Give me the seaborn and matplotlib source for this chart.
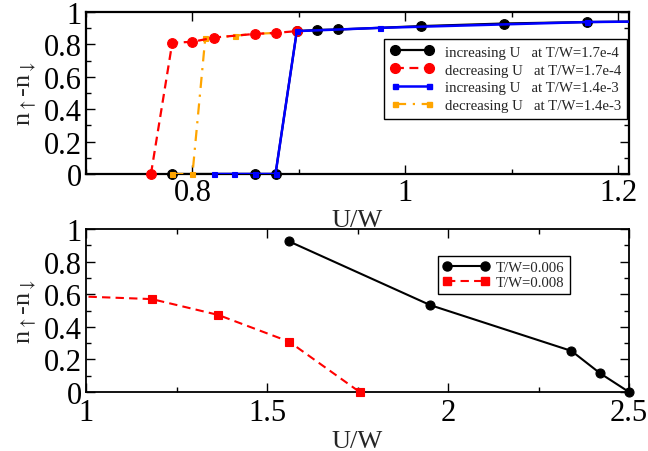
import matplotlib
matplotlib.use("Agg")
import matplotlib.pyplot as plt
import seaborn as sns
from matplotlib.lines import Line2D
from matplotlib.ticker import MultipleLocator, FuncFormatter

# ── data ────────────────────────────────────────────────────────────
# top panel: hysteresis of n_up - n_down vs U/W
inc_lo_x = [0.781, 0.859, 0.878, 0.898, 0.917, 0.937, 1.015, 1.093, 1.171, 1.25]
inc_lo_y = [0.0, 0.0, 0.0, 0.882, 0.889, 0.892, 0.913, 0.929, 0.938, 0.943]
dec_lo_x = [0.761, 0.781, 0.800, 0.820, 0.859, 0.878, 0.898]
dec_lo_y = [0.0, 0.810, 0.816, 0.842, 0.865, 0.871, 0.882]
inc_hi_x = [0.820, 0.839, 0.859, 0.878, 0.898, 0.976, 1.171, 1.25]
inc_hi_y = [0.0, 0.0, 0.0, 0.0, 0.882, 0.902, 0.938, 0.943]
dec_hi_x = [0.781, 0.800, 0.812, 0.820, 0.840, 0.859, 0.878]
dec_hi_y = [0.0, 0.0, 0.838, 0.841, 0.854, 0.865, 0.871]

top_labels = ["increasing U   at T/W=1.7e-4",
              "decreasing U   at T/W=1.7e-4",
              "increasing U   at T/W=1.4e-3",
              "decreasing U   at T/W=1.4e-3"]

# bottom panel
t006_x = [1.561, 1.951, 2.341, 2.42, 2.5]
t006_y = [0.924, 0.533, 0.252, 0.115, 0.0]
t008_x = [0.82, 1.182, 1.365, 1.561, 1.756]
t008_y = [0.60, 0.57, 0.473, 0.309, 0.0]
bottom_labels = ["T/W=0.006", "T/W=0.008"]

top_xlim = (0.7, 1.21)
bot_xlim = (1.0, 2.5)

sns.set_theme(style="ticks")
plt.rcParams["font.family"] = ["Liberation Serif", "DejaVu Serif"]
plt.rcParams["mathtext.fontset"] = "stix"

DASH = (0, (4, 2.5))
DASHDOT = (0, (5, 3, 1, 3))


def draw(ax, x, y, color, ls, marker, ms, lw, xlim):
    # line clipped to the axes, markers left unclipped like xmgrace does
    sns.lineplot(x=x, y=y, color=color, linestyle=ls, linewidth=lw,
                 sort=False, estimator=None, ax=ax)
    xi = [a for a in x if xlim[0] - 1e-9 <= a <= xlim[1] + 1e-9]
    yi = [b for a, b in zip(x, y) if xlim[0] - 1e-9 <= a <= xlim[1] + 1e-9]
    sns.lineplot(x=xi, y=yi, color=color, linestyle="none", marker=marker,
                 markersize=ms, markeredgecolor=color, markeredgewidth=0.8,
                 sort=False, estimator=None, clip_on=False, ax=ax)


def style_axes(ax, spine_w, xlabelpad, xpad):
    ax.set_ylim(0, 1)
    ax.yaxis.set_major_locator(MultipleLocator(0.2))
    ax.yaxis.set_minor_locator(MultipleLocator(0.1))
    fmt = FuncFormatter(lambda v, p: f"{v:g}")
    ax.xaxis.set_major_formatter(fmt)
    ax.yaxis.set_major_formatter(fmt)
    ax.tick_params(which="both", direction="in", top=True, right=True,
                   colors="black", labelsize=22, width=1.0)
    ax.tick_params(which="major", length=6.5, pad=3)
    ax.tick_params(axis="x", which="major", pad=xpad)
    ax.tick_params(which="minor", length=3.5)
    for s in ax.spines.values():
        s.set_linewidth(spine_w)
        s.set_color("black")
        s.set_zorder(1)
    ax.set_xlabel("U/W", fontsize=19, labelpad=xlabelpad)
    ax.set_ylabel("n$_{\\uparrow}$-n$_{\\downarrow}$", fontsize=19, labelpad=4)


fig = plt.figure(figsize=(6.48, 4.52), dpi=100)
ax1 = fig.add_axes([86 / 648, 1 - 175 / 452, 543 / 648, 162 / 452])
ax2 = fig.add_axes([86 / 648, 1 - 393 / 452, 543 / 648, 163 / 452])
ax2.set_facecolor("none")
ax1.set_zorder(3)   # top panel (and its U/W label) drawn last

# ── top panel ───────────────────────────────────────────────────────
draw(ax1, inc_lo_x, inc_lo_y, "black", "-", "o", 7, 1.6, top_xlim)
draw(ax1, dec_hi_x, dec_hi_y, "#ffa500", DASHDOT, "s", 3.6, 1.6, top_xlim)
draw(ax1, dec_lo_x, dec_lo_y, "#ff0000", DASH, "o", 7, 1.6, top_xlim)
draw(ax1, inc_hi_x, inc_hi_y, "#0000ff", "-", "s", 3.6, 1.8, top_xlim)
ax1.set_xlim(*top_xlim)
ax1.xaxis.set_major_locator(MultipleLocator(0.2))
ax1.xaxis.set_minor_locator(MultipleLocator(0.1))
style_axes(ax1, 1.6, 1.5, 3)

top_handles = [
    Line2D([], [], color="black", ls="-", lw=1.6, marker="o", ms=7),
    Line2D([], [], color="#ff0000", ls=DASH, lw=1.6, marker="o", ms=7),
    Line2D([], [], color="#0000ff", ls="-", lw=1.8, marker="s", ms=3.6),
    Line2D([], [], color="#ffa500", ls=DASHDOT, lw=1.6, marker="s", ms=3.6),
]
leg1 = ax1.legend(top_handles, top_labels, loc="upper left",
                  bbox_to_anchor=(0.549, 0.833), borderaxespad=0,
                  numpoints=2, handlelength=2.9, handletextpad=0.75,
                  labelspacing=0.3, borderpad=0.42, fontsize=10.7,
                  frameon=True, fancybox=False, edgecolor="black",
                  framealpha=1)
leg1.get_frame().set_linewidth(1.0)

# ── bottom panel ────────────────────────────────────────────────────
draw(ax2, t006_x, t006_y, "black", "-", "o", 6.5, 1.5, bot_xlim)
draw(ax2, t008_x, t008_y, "#ff0000", DASH, "s", 6, 1.5, bot_xlim)
ax2.set_xlim(*bot_xlim)
ax2.xaxis.set_major_locator(MultipleLocator(0.5))
ax2.xaxis.set_minor_locator(MultipleLocator(0.25))
style_axes(ax2, 1.3, 2, 4.5)

bot_handles = [
    Line2D([], [], color="black", ls="-", lw=1.5, marker="o", ms=6.5),
    Line2D([], [], color="#ff0000", ls=DASH, lw=1.5, marker="s", ms=6),
]
leg2 = ax2.legend(bot_handles, bottom_labels, loc="upper left",
                  bbox_to_anchor=(0.648, 0.834), borderaxespad=0,
                  numpoints=2, handlelength=3.2, handletextpad=0.42,
                  labelspacing=0.1, borderpad=0.33, fontsize=10.6,
                  frameon=True, fancybox=False, edgecolor="black",
                  framealpha=1)
leg2.get_frame().set_linewidth(1.0)

fig.savefig("out.png", dpi=100)
plt.close(fig)
